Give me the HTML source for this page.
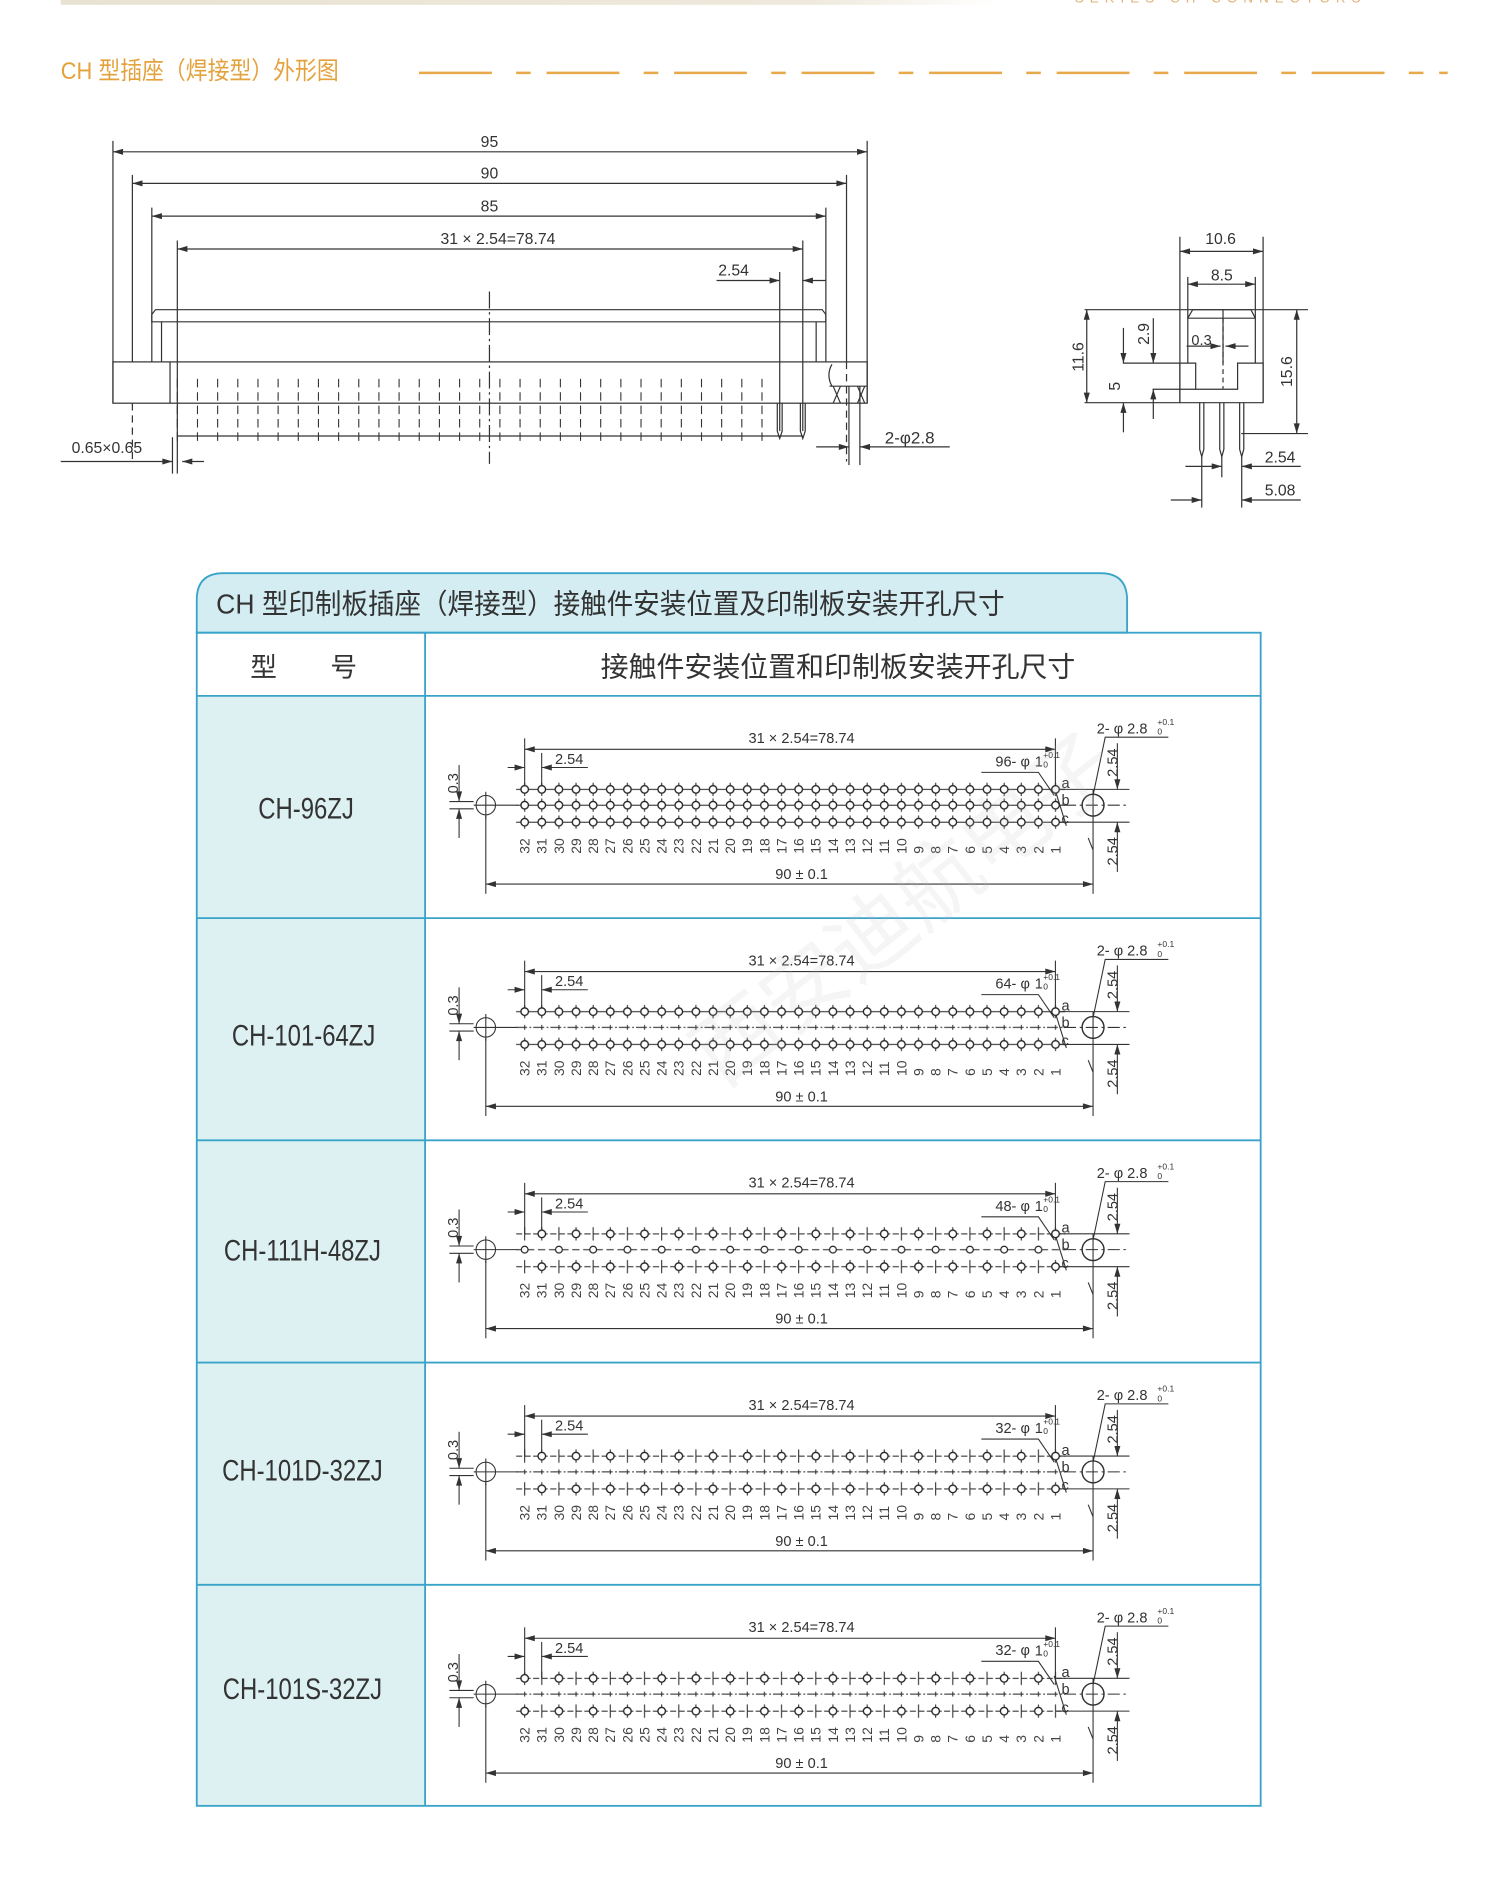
<!DOCTYPE html>
<html><head><meta charset="utf-8"><style>
html,body{margin:0;padding:0;background:#fff}
svg{display:block}
text{font-family:"Liberation Sans","Noto Sans CJK SC",sans-serif}
</style></head><body>
<svg width="1506" height="1903" viewBox="0 0 1240 1567" preserveAspectRatio="none" xmlns="http://www.w3.org/2000/svg">
<defs>
<linearGradient id="topbar" x1="0" x2="1"><stop offset="0" stop-color="#e9e2d2"/><stop offset="0.8" stop-color="#efe9dc"/><stop offset="1" stop-color="#fff"/></linearGradient>
<marker id="ar" viewBox="0 0 10 6" refX="10" refY="3" markerWidth="9" markerHeight="5" orient="auto-start-reverse" markerUnits="userSpaceOnUse"><path d="M0,0L10,3L0,6z" fill="#333"/></marker>
<pattern id="pFull" patternUnits="userSpaceOnUse" x="424.95" y="0" width="14.1" height="14">
<line x1="0" y1="7" x2="14.1" y2="7" stroke="#333" stroke-width="0.9"/>
<line x1="7.05" y1="1.5" x2="7.05" y2="12.5" stroke="#333" stroke-width="0.9"/>
<circle cx="7.05" cy="7" r="3.1" fill="#fff" stroke="#222" stroke-width="1.1"/>
</pattern>
<pattern id="pEven" patternUnits="userSpaceOnUse" x="424.95" y="0" width="28.2" height="14">
<line x1="0" y1="7" x2="28.2" y2="7" stroke="#333" stroke-width="0.9" stroke-dasharray="5 2"/>
<line x1="7.05" y1="1.5" x2="7.05" y2="12.5" stroke="#333" stroke-width="0.9"/>
<circle cx="7.05" cy="7" r="3.1" fill="#fff" stroke="#222" stroke-width="1.1"/>
<line x1="21.15" y1="1.5" x2="21.15" y2="12.5" stroke="#333" stroke-width="0.9"/>
</pattern>
<pattern id="pOdd" patternUnits="userSpaceOnUse" x="424.95" y="0" width="28.2" height="14">
<line x1="0" y1="7" x2="28.2" y2="7" stroke="#333" stroke-width="0.9" stroke-dasharray="5 2"/>
<line x1="7.05" y1="1.5" x2="7.05" y2="12.5" stroke="#333" stroke-width="0.9"/>
<line x1="21.15" y1="1.5" x2="21.15" y2="12.5" stroke="#333" stroke-width="0.9"/>
<circle cx="21.15" cy="7" r="3.1" fill="#fff" stroke="#222" stroke-width="1.1"/>
</pattern>
<pattern id="pBdash" patternUnits="userSpaceOnUse" x="424.95" y="0" width="14.1" height="14">
<line x1="0" y1="7" x2="9" y2="7" stroke="#333" stroke-width="0.9"/>
<line x1="11" y1="7" x2="12.5" y2="7" stroke="#333" stroke-width="0.9"/>
<line x1="7.05" y1="5" x2="7.05" y2="9" stroke="#333" stroke-width="0.9"/>
</pattern>
<pattern id="pBcirc" patternUnits="userSpaceOnUse" x="424.95" y="0" width="28.2" height="14">
<line x1="0" y1="7" x2="28.2" y2="7" stroke="#333" stroke-width="0.9" stroke-dasharray="6 3"/>
<circle cx="7.05" cy="7" r="2.8" fill="#fff" stroke="#222" stroke-width="1"/>
</pattern>
</defs>

<rect x="50" y="0" width="770" height="4" fill="url(#topbar)"/>
<text x="885" y="2" font-size="11" fill="#e0b070" letter-spacing="5">SERIES CH CONNECTORS</text>

<text x="50" y="65" font-size="20" fill="#e4a23c" transform="translate(50,0) scale(0.9,1) translate(-50,0)">CH 型插座（焊接型）外形图</text>
<line x1="345" y1="60" x2="1192" y2="60" stroke="#e8a94a" stroke-width="2" stroke-dasharray="60 20 12 13"/>

<g stroke="#333" stroke-width="1" fill="none">
<line x1="93" y1="125" x2="714" y2="125" marker-start="url(#ar)" marker-end="url(#ar)"/>
<line x1="109" y1="151" x2="697" y2="151" marker-start="url(#ar)" marker-end="url(#ar)"/>
<line x1="125" y1="178" x2="680" y2="178" marker-start="url(#ar)" marker-end="url(#ar)"/>
<line x1="146" y1="205" x2="661" y2="205" marker-start="url(#ar)" marker-end="url(#ar)"/>
<line x1="590" y1="231" x2="642" y2="231" marker-end="url(#ar)"/>
<line x1="680" y1="231" x2="661" y2="231" marker-end="url(#ar)"/>
<line x1="93" y1="116" x2="93" y2="332"/>
<line x1="714" y1="116" x2="714" y2="332"/>
<line x1="109" y1="144" x2="109" y2="298"/>
<line x1="697" y1="144" x2="697" y2="298"/>
<line x1="109" y1="332" x2="109" y2="380" stroke-dasharray="6 4"/>
<line x1="697" y1="298" x2="697" y2="380" stroke-dasharray="6 4"/>
<line x1="125" y1="171" x2="125" y2="298"/>
<line x1="680" y1="171" x2="680" y2="298"/>
<line x1="146" y1="198" x2="146" y2="390"/>
<line x1="661" y1="198" x2="661" y2="355"/>
<line x1="642" y1="224" x2="642" y2="355"/>
<path d="M128,255 L677,255 L680,259 L680,265 L125,265 L125,259 Z"/>
<line x1="133" y1="265" x2="133" y2="298"/>
<line x1="672" y1="265" x2="672" y2="298"/>
<rect x="93" y="298" width="621" height="34"/>
<line x1="140" y1="298" x2="140" y2="332"/>
<line x1="683" y1="318" x2="714" y2="318"/>
<path d="M686,318 L692,332 M692,318 L686,332 M706,318 L712,332 M712,318 L706,332"/>
<path d="M685,300 Q680,309 685,318"/>
<line x1="699" y1="318" x2="699" y2="383"/>
<line x1="708" y1="318" x2="708" y2="383"/>
<line x1="146" y1="359" x2="661" y2="359"/>
<path d="M146,312 V365 M162.6,312 V365 M179.2,312 V365 M195.8,312 V365 M212.4,312 V365 M229,312 V365 M245.6,312 V365 M262.2,312 V365 M278.8,312 V365 M295.4,312 V365 M312,312 V365 M328.6,312 V365 M345.2,312 V365 M361.8,312 V365 M378.4,312 V365 M395,312 V365 M411.6,312 V365 M428.2,312 V365 M444.8,312 V365 M461.4,312 V365 M478,312 V365 M494.6,312 V365 M511.2,312 V365 M527.8,312 V365 M544.4,312 V365 M561,312 V365 M577.6,312 V365 M594.2,312 V365 M610.8,312 V365 M627.4,312 V365" stroke-dasharray="7 4" stroke-width="0.9"/>
<path d="M640,332 V355 L642,361 L644,355 V332 M659,332 V355 L661,361 L663,355 V332"/>
<line x1="403" y1="240" x2="403" y2="382" stroke-dasharray="14 3 2 3"/>
<line x1="50" y1="380" x2="142" y2="380" marker-end="url(#ar)"/>
<line x1="168" y1="380" x2="150" y2="380" marker-end="url(#ar)"/>
<line x1="142" y1="360" x2="142" y2="390"/>
<line x1="672" y1="368" x2="699" y2="368" marker-end="url(#ar)"/>
<line x1="782" y1="368" x2="708" y2="368" marker-end="url(#ar)"/>
</g>
<g font-size="13" fill="#333" text-anchor="middle">
<text x="403" y="121">95</text>
<text x="403" y="147">90</text>
<text x="403" y="174">85</text>
<text x="410" y="201">31 × 2.54=78.74</text>
<text x="604" y="227">2.54</text>
<text x="88" y="373">0.65×0.65</text>
<text x="749" y="365" font-size="14">2-φ2.8</text>
</g>

<g stroke="#333" stroke-width="1" fill="none">
<line x1="971.5" y1="195" x2="971.5" y2="331.6"/>
<line x1="1040" y1="195" x2="1040" y2="331.6"/>
<line x1="971.5" y1="207" x2="1040" y2="207" marker-start="url(#ar)" marker-end="url(#ar)"/>
<line x1="978" y1="228" x2="978" y2="299"/>
<line x1="1033.6" y1="228" x2="1033.6" y2="299"/>
<line x1="978" y1="234" x2="1033.6" y2="234" marker-start="url(#ar)" marker-end="url(#ar)"/>
<path d="M978,262 L982,255 L1030,255 L1033.6,262"/>
<line x1="978" y1="262" x2="1033.6" y2="262"/>
<line x1="1007" y1="255" x2="1007" y2="299"/>
<line x1="893" y1="255" x2="1077" y2="255"/>
<path d="M971.5,299 H984.5 V320.5 H1019 V299 H1040 V331.6 H971.5 Z"/>
<line x1="924.5" y1="299" x2="971.5" y2="299"/>
<line x1="949" y1="320.5" x2="984.5" y2="320.5"/>
<line x1="893" y1="331.6" x2="971.5" y2="331.6"/>
<line x1="1022" y1="357" x2="1077" y2="357"/>
<line x1="1007" y1="262" x2="1007" y2="320" stroke-dasharray="4 3"/>
<line x1="894.8" y1="255" x2="894.8" y2="331.6" marker-start="url(#ar)" marker-end="url(#ar)"/>
<line x1="925" y1="270" x2="925" y2="299" marker-end="url(#ar)"/>
<line x1="925" y1="356" x2="925" y2="331.6" marker-end="url(#ar)"/>
<line x1="949.6" y1="262" x2="949.6" y2="299" marker-end="url(#ar)"/>
<line x1="949.6" y1="345" x2="949.6" y2="320.5" marker-end="url(#ar)"/>
<line x1="1067.7" y1="255" x2="1067.7" y2="357" marker-start="url(#ar)" marker-end="url(#ar)"/>
<line x1="977" y1="285" x2="1005" y2="285" marker-end="url(#ar)"/>
<line x1="1028" y1="285" x2="1009" y2="285" marker-end="url(#ar)"/>
<path d="M987.8,331.6 V370 L989.5,376 L991.2,370 V331.6 M1004.3,331.6 V370 L1006,376 L1007.7,370 V331.6 M1020.7,331.6 V370 L1022.4,376 L1024.1,370 V331.6"/>
<line x1="989.5" y1="376" x2="989.5" y2="418"/>
<line x1="1006" y1="376" x2="1006" y2="393"/>
<line x1="1022.4" y1="376" x2="1022.4" y2="418"/>
<line x1="976" y1="384" x2="1006" y2="384" marker-end="url(#ar)"/>
<line x1="1071" y1="384" x2="1022.4" y2="384" marker-end="url(#ar)"/>
<line x1="964" y1="411.7" x2="989.5" y2="411.7" marker-end="url(#ar)"/>
<line x1="1071" y1="411.7" x2="1022.4" y2="411.7" marker-end="url(#ar)"/>
</g>
<g font-size="13" fill="#333">
<text x="1005" y="201" text-anchor="middle">10.6</text>
<text x="1006" y="231" text-anchor="middle">8.5</text>
<text x="981" y="284" font-size="12">0.3</text>
<text x="1054" y="381" text-anchor="middle">2.54</text>
<text x="1054" y="408" text-anchor="middle">5.08</text>
<text transform="translate(892,294) rotate(-90)" text-anchor="middle">11.6</text>
<text transform="translate(922,318) rotate(-90)" text-anchor="middle">5</text>
<text transform="translate(946,275) rotate(-90)" text-anchor="middle">2.9</text>
<text transform="translate(1064,306) rotate(-90)" text-anchor="middle">15.6</text>
</g>

<path d="M162,521 V494 Q162,472 184,472 H906 Q928,472 928,494 V521 Z" fill="#d3edf3" stroke="#3aa3c9" stroke-width="1.5"/>
<text x="178" y="505" font-size="23" fill="#333" transform="translate(178,0) scale(0.95,1) translate(-178,0)">CH 型印制板插座（焊接型）接触件安装位置及印制板安装开孔尺寸</text>
<rect x="162" y="573" width="188" height="914" fill="#ddf1f2"/>
<rect x="162" y="521" width="876" height="966" fill="none" stroke="#3aa3c9" stroke-width="1.5"/>
<g stroke="#3aa3c9" stroke-width="1.5">
<line x1="162" y1="573" x2="1038" y2="573"/>
<line x1="162" y1="756" x2="1038" y2="756"/>
<line x1="162" y1="939" x2="1038" y2="939"/>
<line x1="162" y1="1122" x2="1038" y2="1122"/>
<line x1="162" y1="1305" x2="1038" y2="1305"/>
<line x1="350" y1="521" x2="350" y2="1487"/>
</g>
<text x="250" y="557" font-size="22" fill="#333" text-anchor="middle">型　　号</text>
<text x="690" y="557" font-size="23" fill="#333" text-anchor="middle">接触件安装位置和印制板安装开孔尺寸</text>
<g font-size="24" fill="#333" text-anchor="middle">
<text x="252" y="674" transform="translate(252,0) scale(0.82,1) translate(-252,0)">CH-96ZJ</text>
<text x="250" y="861" transform="translate(250,0) scale(0.82,1) translate(-250,0)">CH-101-64ZJ</text>
<text x="249" y="1038" transform="translate(249,0) scale(0.82,1) translate(-249,0)">CH-111H-48ZJ</text>
<text x="249" y="1219" transform="translate(249,0) scale(0.82,1) translate(-249,0)">CH-101D-32ZJ</text>
<text x="249" y="1399" transform="translate(249,0) scale(0.82,1) translate(-249,0)">CH-101S-32ZJ</text>
</g>

<g id="common">
<g stroke="#333" stroke-width="0.9" fill="none">
<line x1="432" y1="608" x2="432" y2="650"/>
<line x1="869" y1="608" x2="869" y2="650"/>
<line x1="432" y1="617" x2="869" y2="617" marker-start="url(#ar)" marker-end="url(#ar)"/>
<line x1="446" y1="620" x2="446" y2="650"/>
<line x1="418" y1="632" x2="432" y2="632" marker-end="url(#ar)"/>
<line x1="484" y1="632" x2="446" y2="632" marker-end="url(#ar)"/>
<line x1="378" y1="630" x2="378" y2="660" marker-end="url(#ar)"/>
<line x1="378" y1="690" x2="378" y2="666" marker-end="url(#ar)"/>
<line x1="370" y1="660" x2="390" y2="660"/>
<line x1="370" y1="666" x2="390" y2="666"/>
<circle cx="400" cy="663" r="8"/>
<line x1="400" y1="652" x2="400" y2="674"/>
<line x1="390" y1="663" x2="426" y2="663"/>
<circle cx="900" cy="663" r="9" stroke-width="1.2"/>
<line x1="876" y1="663" x2="930" y2="663" stroke-dasharray="10 3 2 3"/>
<line x1="870" y1="650" x2="930" y2="650"/>
<line x1="870" y1="677" x2="930" y2="677"/>
<line x1="900" y1="650" x2="900" y2="736"/>
<line x1="400" y1="672" x2="400" y2="736"/>
<line x1="400" y1="728" x2="900" y2="728" marker-start="url(#ar)" marker-end="url(#ar)"/>
<path d="M808,636 H855 L868,655"/>
<path d="M962,607 H910 L900,655" />
<line x1="900" y1="700" x2="896" y2="690"/>
<line x1="920" y1="612" x2="920" y2="650" marker-end="url(#ar)"/>
<line x1="920" y1="718" x2="920" y2="677" marker-end="url(#ar)"/>
<line x1="868" y1="648" x2="878" y2="680"/>
</g>
<g font-size="12" fill="#333">
<text x="660" y="612" text-anchor="middle">31 × 2.54=78.74</text>
<text x="457" y="629">2.54</text>
<text x="660" y="724" text-anchor="middle">90 ± 0.1</text>
<text x="903" y="604">2- φ 2.8</text>
<text x="953" y="597" font-size="7">+0.1</text>
<text x="953" y="605" font-size="7">0</text>
<text x="852" y="631">1</text>
<text x="859" y="624" font-size="7">+0.1</text>
<text x="859" y="632" font-size="7">0</text>
<text x="874" y="649">a</text>
<text x="874" y="663">b</text>
<text x="874" y="678">c</text>
<text transform="translate(377,645) rotate(-90)" text-anchor="middle">0.3</text>
<text transform="translate(920,628) rotate(-90)" text-anchor="middle">2.54</text>
<text transform="translate(920,701) rotate(-90)" text-anchor="middle">2.54</text>
</g>
<g font-size="11.5" fill="#444">
<text transform="translate(436,703) rotate(-90)">32</text>
<text transform="translate(450.1,703) rotate(-90)">31</text>
<text transform="translate(464.2,703) rotate(-90)">30</text>
<text transform="translate(478.3,703) rotate(-90)">29</text>
<text transform="translate(492.4,703) rotate(-90)">28</text>
<text transform="translate(506.5,703) rotate(-90)">27</text>
<text transform="translate(520.6,703) rotate(-90)">26</text>
<text transform="translate(534.7,703) rotate(-90)">25</text>
<text transform="translate(548.8,703) rotate(-90)">24</text>
<text transform="translate(562.9,703) rotate(-90)">23</text>
<text transform="translate(577,703) rotate(-90)">22</text>
<text transform="translate(591.1,703) rotate(-90)">21</text>
<text transform="translate(605.2,703) rotate(-90)">20</text>
<text transform="translate(619.3,703) rotate(-90)">19</text>
<text transform="translate(633.4,703) rotate(-90)">18</text>
<text transform="translate(647.5,703) rotate(-90)">17</text>
<text transform="translate(661.6,703) rotate(-90)">16</text>
<text transform="translate(675.7,703) rotate(-90)">15</text>
<text transform="translate(689.8,703) rotate(-90)">14</text>
<text transform="translate(703.9,703) rotate(-90)">13</text>
<text transform="translate(718,703) rotate(-90)">12</text>
<text transform="translate(732.1,703) rotate(-90)">11</text>
<text transform="translate(746.2,703) rotate(-90)">10</text>
<text transform="translate(760.3,703) rotate(-90)">9</text>
<text transform="translate(774.4,703) rotate(-90)">8</text>
<text transform="translate(788.5,703) rotate(-90)">7</text>
<text transform="translate(802.6,703) rotate(-90)">6</text>
<text transform="translate(816.7,703) rotate(-90)">5</text>
<text transform="translate(830.8,703) rotate(-90)">4</text>
<text transform="translate(844.9,703) rotate(-90)">3</text>
<text transform="translate(859,703) rotate(-90)">2</text>
<text transform="translate(873.1,703) rotate(-90)">1</text>
</g>
</g>
<use href="#common" y="183"/>
<use href="#common" y="366"/>
<use href="#common" y="549"/>
<use href="#common" y="732"/>

<g font-size="12" fill="#333" text-anchor="end">
<text x="848" y="631">96- φ</text>
<text x="848" y="814">64- φ</text>
<text x="848" y="997">48- φ</text>
<text x="848" y="1180">32- φ</text>
<text x="848" y="1363">32- φ</text>
</g>

<g transform="translate(0,643)"><rect x="425" y="0" width="452" height="14" fill="url(#pFull)"/></g>
<g transform="translate(0,656)"><rect x="425" y="0" width="452" height="14" fill="url(#pFull)"/></g>
<g transform="translate(0,670)"><rect x="425" y="0" width="452" height="14" fill="url(#pFull)"/></g>

<g transform="translate(0,826)"><rect x="425" y="0" width="452" height="14" fill="url(#pFull)"/></g>
<g transform="translate(0,839)"><rect x="425" y="0" width="452" height="14" fill="url(#pBdash)"/></g>
<g transform="translate(0,853)"><rect x="425" y="0" width="452" height="14" fill="url(#pFull)"/></g>

<g transform="translate(0,1009)"><rect x="425" y="0" width="452" height="14" fill="url(#pOdd)"/></g>
<g transform="translate(0,1022)"><rect x="425" y="0" width="452" height="14" fill="url(#pBcirc)"/></g>
<g transform="translate(0,1036)"><rect x="425" y="0" width="452" height="14" fill="url(#pOdd)"/></g>

<g transform="translate(0,1192)"><rect x="425" y="0" width="452" height="14" fill="url(#pOdd)"/></g>
<g transform="translate(0,1205)"><rect x="425" y="0" width="452" height="14" fill="url(#pBdash)"/></g>
<g transform="translate(0,1219)"><rect x="425" y="0" width="452" height="14" fill="url(#pOdd)"/></g>

<g transform="translate(0,1375)"><rect x="425" y="0" width="452" height="14" fill="url(#pEven)"/></g>
<g transform="translate(0,1388)"><rect x="425" y="0" width="452" height="14" fill="url(#pBdash)"/></g>
<g transform="translate(0,1402)"><rect x="425" y="0" width="452" height="14" fill="url(#pEven)"/></g>

<text x="520" y="840" font-size="70" fill="#bbb" fill-opacity="0.15" transform="rotate(-38 640 760)">西安迪航电子</text>
</svg>
</body></html>
